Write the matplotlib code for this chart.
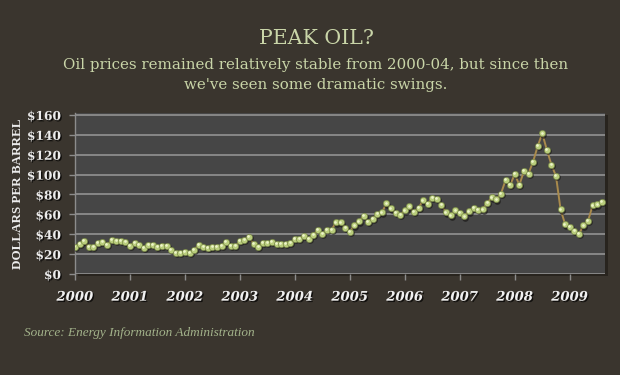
import numpy as np
import matplotlib
matplotlib.use("Agg")
import matplotlib.pyplot as plt
import matplotlib.patheffects as pe
from matplotlib.transforms import offset_copy
from matplotlib.patches import Rectangle

# ---- data (monthly oil price, $/barrel, Jan 2000 - Aug 2009) ----
start_year = 2000
prices_2000 = [27, 30, 33, 27, 27, 31, 32, 29, 34, 33, 33, 32.5]
prices_2001 = [28.5, 31, 29, 26, 29, 29, 27, 28, 28.5, 24.5, 21, 21]
prices_2002 = [22, 21, 24.5, 29, 27.5, 26, 27.5, 27.5, 28, 32, 28, 28]
prices_2003 = [33, 34, 37, 30.5, 27, 31.5, 31, 32.5, 30, 30, 30, 31]
prices_2004 = [35, 35.5, 38.5, 35, 39.5, 44, 40, 44.5, 44.5, 52, 52, 46.5]
prices_2005 = [42.5, 49, 53, 58.5, 52.5, 55.5, 60.5, 62, 71, 66, 61.5, 59.5]
prices_2006 = [64, 68, 62.5, 66.5, 74, 70.5, 76.5, 75.5, 69.5, 62, 59, 64]
prices_2007 = [61.5, 58, 63, 66.5, 64.5, 65, 71.5, 77, 75, 81, 94.5, 89.5]
prices_2008 = [100.5, 89.5, 103.5, 101, 113, 128.5, 141.5, 125, 110, 98.5, 65, 50]
prices_2009 = [47.5, 43, 40, 49, 53.5, 69, 70, 72.5]

prices = (prices_2000 + prices_2001 + prices_2002 + prices_2003 + prices_2004 +
          prices_2005 + prices_2006 + prices_2007 + prices_2008 + prices_2009)
year_ticks = list(range(2000, 2010))
year_labels = [str(y) for y in year_ticks]
y_ticks = list(range(0, 161, 20))
y_labels = ["$" + str(v) for v in y_ticks]

title = "PEAK OIL?"
subtitle = ("Oil prices remained relatively stable from 2000-04, but since then\n"
            "we've seen some dramatic swings.")
ylabel = "DOLLARS PER BARREL"
source = "Source: Energy Information Administration"

x = start_year + np.arange(len(prices)) / 12.0

# ---- styling ----
BG = "#3a352e"
PLOT_BG = "#464646"
GRID = "#8c8c8c"
TITLE_C = "#c9d5a8"

W, H = 620, 375
fig = plt.figure(figsize=(6.2, 3.75), dpi=100, facecolor=BG)

left, right, top, bottom = 75, 605, 113, 274
ax_rect = [left / W, (H - bottom) / H, (right - left) / W, (bottom - top) / H]

# drop shadow behind plot area
fig.patches.append(Rectangle((ax_rect[0] + 3 / W, ax_rect[1] - 2 / H), ax_rect[2], ax_rect[3],
                             transform=fig.transFigure, facecolor="#28241e",
                             edgecolor="none", zorder=0))

ax = fig.add_axes(ax_rect)
ax.set_zorder(2)
ax.set_facecolor(PLOT_BG)
ax.set_xlim(2000, 2000 + 115.7 / 12)
ax.set_ylim(0, 162)

ax.set_yticks(y_ticks)
ax.set_yticklabels(y_labels)
ax.set_xticks(year_ticks)
ax.set_xticklabels(year_labels)
ax.yaxis.grid(True, color=GRID, lw=1.3, zorder=1)
ax.set_axisbelow(True)
for s in ["top", "right", "bottom"]:
    ax.spines[s].set_visible(False)
ax.spines["left"].set_color(GRID)
ax.spines["left"].set_linewidth(1.0)
ax.tick_params(axis="both", colors=GRID, length=4, width=1.0)
ax.tick_params(axis="y", pad=6)
ax.tick_params(axis="x", pad=8)

shadow_fx = [pe.SimplePatchShadow(offset=(1, -1), shadow_rgbFace="black", alpha=0.7), pe.Normal()]
for lab in ax.get_yticklabels():
    lab.set_fontfamily("DejaVu Serif")
    lab.set_fontweight("bold")
    lab.set_fontsize(8.8)
    lab.set_color("#ececec")
    lab.set_path_effects(shadow_fx)
for lab in ax.get_xticklabels():
    lab.set_fontfamily("DejaVu Serif")
    lab.set_fontweight("bold")
    lab.set_fontstyle("italic")
    lab.set_fontsize(9.5)
    lab.set_color("#f0f0f0")
    lab.set_path_effects(shadow_fx)

# line + markers
ax.plot(x, prices, color="#a98a4c", lw=1.4, zorder=3)
shadow_tr = offset_copy(ax.transData, fig=fig, x=1.0, y=-1.2, units="dots")
ax.plot(x, prices, ls="none", marker="o", ms=4.8, mfc="#141210", mec="none",
        alpha=0.6, transform=shadow_tr, zorder=4)
ax.plot(x, prices, ls="none", marker="o", ms=4.6, mfc="#b9cd7c", mec="#6e7b40",
        mew=0.4, zorder=5)
hl_tr = offset_copy(ax.transData, fig=fig, x=-0.7, y=0.8, units="dots")
ax.plot(x, prices, ls="none", marker="o", ms=1.9, mfc="#eef5cc", mec="none",
        transform=hl_tr, zorder=6)

# texts
fig.text(316 / W, 1 - 39 / H, title, ha="center", va="center",
         fontfamily="DejaVu Serif", fontsize=14.8, color=TITLE_C)
fig.text(316 / W, 1 - 75 / H, subtitle, ha="center", va="center",
         fontfamily="DejaVu Serif", fontsize=10.8, color=TITLE_C,
         linespacing=1.6)
fig.text(18 / W, 1 - 194 / H, ylabel, ha="center", va="center", rotation=90,
         fontfamily="Liberation Serif", fontweight="bold", fontsize=9.4,
         color="#ececec")
fig.text(24 / W, 1 - 333 / H, source, ha="left", va="center",
         fontfamily="Liberation Serif", fontstyle="italic", fontsize=9.5,
         color="#a3b38b")

fig.savefig("out.png", dpi=100, facecolor=BG)
